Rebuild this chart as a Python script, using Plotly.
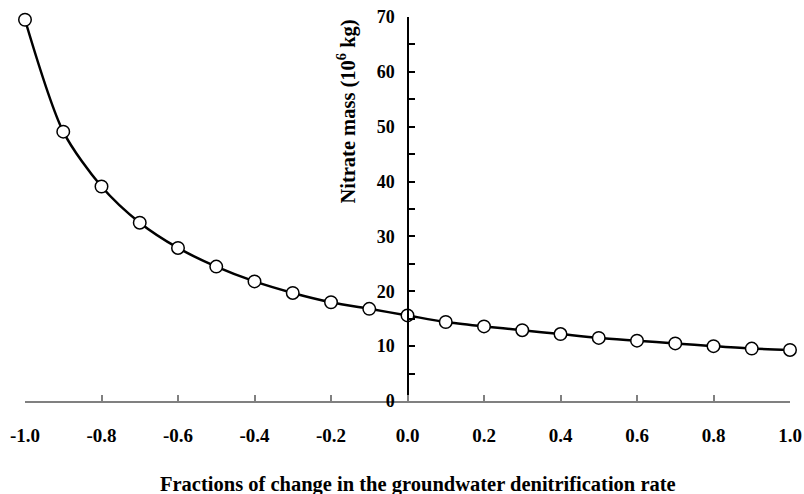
import plotly.graph_objects as go

fractions = [-1.0, -0.9, -0.8, -0.7, -0.6, -0.5, -0.4, -0.3, -0.2, -0.1, 0.0,
             0.1, 0.2, 0.3, 0.4, 0.5, 0.6, 0.7, 0.8, 0.9, 1.0]
nitrate_mass = [69.5, 49.1, 39.1, 32.5, 27.9, 24.5, 21.8, 19.7, 18.0, 16.8, 15.6,
                14.4, 13.6, 12.9, 12.2, 11.5, 11.0, 10.5, 10.0, 9.55, 9.3]
x_tick_vals = [-1.0, -0.8, -0.6, -0.4, -0.2, 0.0, 0.2, 0.4, 0.6, 0.8, 1.0]
x_tick_text = ["-1.0", "-0.8", "-0.6", "-0.4", "-0.2", "0.0", "0.2", "0.4", "0.6", "0.8", "1.0"]
y_tick_vals = [0, 10, 20, 30, 40, 50, 60, 70]

FONT = "Liberation Serif"

fig = go.Figure()
fig.add_trace(go.Scatter(
    x=fractions, y=nitrate_mass, mode="lines+markers",
    line=dict(color="black", width=2.5, shape="spline", smoothing=0.8),
    marker=dict(size=12.5, color="white", line=dict(color="black", width=1.5)),
    cliponaxis=False, showlegend=False,
))

fig.update_layout(
    width=804, height=494,
    margin=dict(l=25, r=14, t=17, b=93, autoexpand=False),
    paper_bgcolor="white", plot_bgcolor="white",
    font=dict(family=FONT, size=16, color="black"),
    xaxis=dict(
        range=[-1, 1], tickvals=x_tick_vals, ticktext=x_tick_text,
        automargin=False,
        showgrid=False, zeroline=False,
        showline=True, linecolor="#808080", linewidth=2,
        ticks="inside", ticklen=6, tickwidth=1.5, tickcolor="#808080",
        ticklabelstandoff=16,
        tickfont=dict(family=FONT, size=19, color="black", weight="bold"),
    ),
    yaxis=dict(
        range=[0, 70], tickvals=y_tick_vals,
        automargin=False,
        anchor="free", position=0.5007, side="left",
        showgrid=False, zeroline=False,
        showline=True, linecolor="black", linewidth=1.5,
        ticks="inside", ticklen=6, tickwidth=1.5, tickcolor="black",
        minor=dict(ticks="inside", dtick=5, ticklen=6, tickwidth=1.5, tickcolor="black"),
        ticklabelstandoff=9,
        tickfont=dict(family=FONT, size=18, color="black", weight="bold"),
    ),
    annotations=[
        dict(text="<b>Fractions of change in the groundwater denitrification rate</b>",
             xref="paper", yref="paper", x=(418 - 25) / 765, y=(401 - 484) / 383.5,
             xanchor="center", yanchor="middle", showarrow=False,
             font=dict(family=FONT, size=20.5, color="black")),
        dict(text="<b>Nitrate mass (10<sup>6</sup> kg)</b>",
             xref="paper", yref="paper", x=(347 - 25) / 765, y=(401 - 112) / 383.5,
             xanchor="center", yanchor="middle", textangle=-90, showarrow=False,
             font=dict(family=FONT, size=20.5, color="black")),
    ],
)

fig.write_html("out.html")
